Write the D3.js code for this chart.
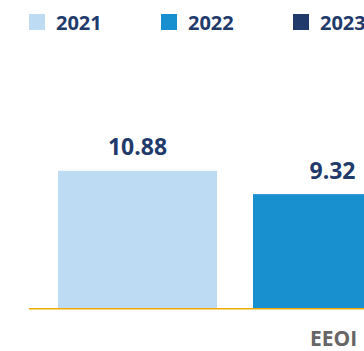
<!DOCTYPE html>
<html>
<head>
<meta charset="utf-8">
<script src="https://cdn.jsdelivr.net/npm/d3@7"></script>
<style>
  html, body { margin: 0; padding: 0; background: #fff; overflow: hidden; }
  text { font-family: "Open Sans", "DejaVu Sans", sans-serif; font-weight: 700; }
</style>
</head>
<body>
<div id="chart"></div>
<script>
// data (2023 bar sits outside the visible area)
var categories = ["EEOI"];
var years = ["2021", "2022", "2023"];
var values2021 = [10.88];
var values2022 = [9.32];
var values2023 = [null];
var colors = ["#bddcf3", "#1890d0", "#1f3a6b"];

var series = [values2021, values2022, values2023];

var width = 364, height = 351;
var margin = {left: 29, top: 14};
var plotRight = 636, baseY = 308;

var svg = d3.select("#chart")
  .append("svg")
  .attr("width", width)
  .attr("height", height);

// scales
var x0 = d3.scaleBand()
  .domain(categories)
  .range([margin.left, plotRight]);

var x1 = d3.scaleBand()
  .domain(years)
  .range([29, x0.bandwidth() - 29])
  .paddingInner(0.1846);

var y = d3.scaleLinear()
  .domain([1.7, 12])
  .range([baseY, 154.1]);

// legend
var legend = svg.append("g")
  .selectAll("g")
  .data(years)
  .enter()
  .append("g")
    .attr("transform", function(d, i) { return "translate(" + (margin.left + i * 132) + "," + margin.top + ")"; });

legend.append("rect")
  .attr("width", 16)
  .attr("height", 16)
  .attr("fill", function(d, i) { return colors[i]; });

legend.append("text")
  .attr("x", 27)
  .attr("y", 16)
  .attr("fill", "#1f3a6b")
  .style("font-size", "20px")
  .text(function(d) { return d; });

// bars
var groups = svg.selectAll("g.group")
  .data(categories)
  .enter()
  .append("g")
    .attr("class", "group")
    .attr("transform", function(d) { return "translate(" + x0(d) + ",0)"; });

years.forEach(function(yr, s) {
  var vals = series[s];
  var g = groups.filter(function(d, i) { return vals[i] != null; });

  g.append("rect")
    .attr("x", x1(yr))
    .attr("width", x1.bandwidth())
    .attr("y", function(d, i) { return y(vals[categories.indexOf(d)]); })
    .attr("height", function(d) { return baseY - y(vals[categories.indexOf(d)]); })
    .attr("fill", colors[s]);

  g.append("text")
    .attr("x", x1(yr) + x1.bandwidth() / 2)
    .attr("y", function(d) { return y(vals[categories.indexOf(d)]) - 15.5; })
    .attr("text-anchor", "middle")
    .attr("fill", "#1f3a6b")
    .style("font-size", "23px")
    .text(function(d) { return vals[categories.indexOf(d)].toFixed(2); });
});

// baseline
svg.append("line")
  .attr("x1", margin.left)
  .attr("x2", plotRight)
  .attr("y1", baseY + 0.75)
  .attr("y2", baseY + 0.75)
  .style("stroke", "#f0ab00")
  .style("stroke-width", 1.5);

// category labels
svg.selectAll("text.cat")
  .data(categories)
  .enter()
  .append("text")
    .attr("class", "cat")
    .attr("x", function(d) { return x0(d) + x0.bandwidth() / 2 + 1; })
    .attr("y", 346)
    .attr("text-anchor", "middle")
    .attr("fill", "#666666")
    .style("font-size", "21px")
    .text(function(d) { return d; });
</script>
</body>
</html>
